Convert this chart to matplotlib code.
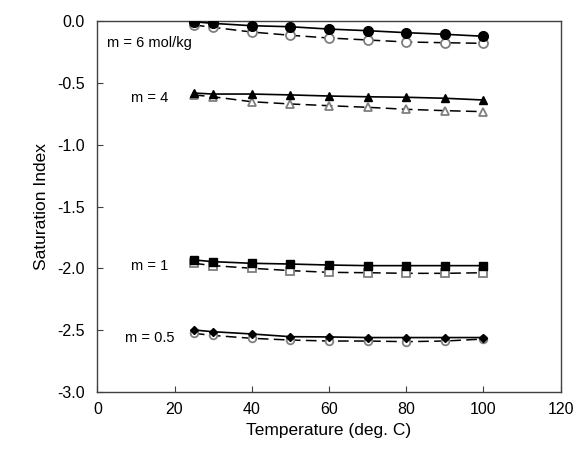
import numpy as np
import matplotlib
matplotlib.use("Agg")
import matplotlib.pyplot as plt

plt.rcParams["font.family"] = ["Liberation Sans", "DejaVu Sans"]
plt.rcParams["axes.unicode_minus"] = False

temp = [25, 30, 40, 50, 60, 70, 80, 90, 100]

# m = 6 mol/kg
m6_calc = [-0.010, -0.023, -0.042, -0.050, -0.069, -0.082, -0.098, -0.111, -0.127]
m6_alt = [-0.036, -0.055, -0.093, -0.119, -0.141, -0.157, -0.173, -0.179, -0.184]
# m = 4
m4_calc = [-0.585, -0.593, -0.593, -0.600, -0.609, -0.615, -0.619, -0.627, -0.641]
m4_alt = [-0.600, -0.615, -0.655, -0.673, -0.687, -0.700, -0.716, -0.727, -0.735]
# m = 1
m1_calc = [-1.931, -1.945, -1.958, -1.964, -1.972, -1.977, -1.977, -1.977, -1.977]
m1_alt = [-1.958, -1.977, -1.998, -2.017, -2.031, -2.034, -2.039, -2.039, -2.034]
# m = 0.5
m05_calc = [-2.496, -2.510, -2.528, -2.550, -2.552, -2.557, -2.557, -2.557, -2.557]
m05_alt = [-2.523, -2.540, -2.563, -2.577, -2.585, -2.585, -2.590, -2.585, -2.569]

labels = ["m = 6 mol/kg", "m = 4", "m = 1", "m = 0.5"]
label_x = [13.6, 13.6, 13.6, 13.6]
label_y = [-0.184, -0.627, -1.98, -2.563]

fig = plt.figure(figsize=(5.88, 4.54), dpi=100)
ax = fig.add_axes([0.1655, 0.1355, 0.788, 0.8193])

series = [
    (m6_calc, m6_alt, "o", "o", 7, 6.5),
    (m4_calc, m4_alt, "^", "^", 6, 6),
    (m1_calc, m1_alt, "s", "s", 6, 6),
    (m05_calc, m05_alt, "D", "o", 4.5, 5.5),
]
for calc, alt, mk1, mk2, ms1, ms2 in series:
    ax.plot(temp, alt, color="black", lw=1.1, ls=(0, (7, 3.5)), marker=mk2, ms=ms2,
            mfc="white", mec="#7f7f7f", mew=1.3, zorder=2)
    ax.plot(temp, calc, color="black", lw=1.2, marker=mk1, ms=ms1,
            mfc="black", mec="black", zorder=3)

for t, x, y in zip(labels, label_x, label_y):
    ax.text(x, y, t, ha="center", va="center", fontsize=10.5)

ax.set_xlim(0, 120)
ax.set_ylim(-3.0, 0.0)
ax.set_xticks(np.arange(0, 121, 20))
ax.set_yticks(np.arange(-3.0, 0.01, 0.5))
ax.yaxis.set_major_formatter(matplotlib.ticker.FormatStrFormatter("%.1f"))
ax.tick_params(direction="in", length=4, labelsize=11.5, color="#404040")
ax.tick_params(axis="y", pad=9)
ax.tick_params(axis="x", pad=7)
for s in ax.spines.values():
    s.set_color("#404040")
    s.set_linewidth(1.0)
ax.set_xlabel("Temperature (deg. C)", fontsize=12.5, labelpad=4)
ax.set_ylabel("Saturation Index", fontsize=12.5, labelpad=6)

fig.savefig("out.png", dpi=100)
